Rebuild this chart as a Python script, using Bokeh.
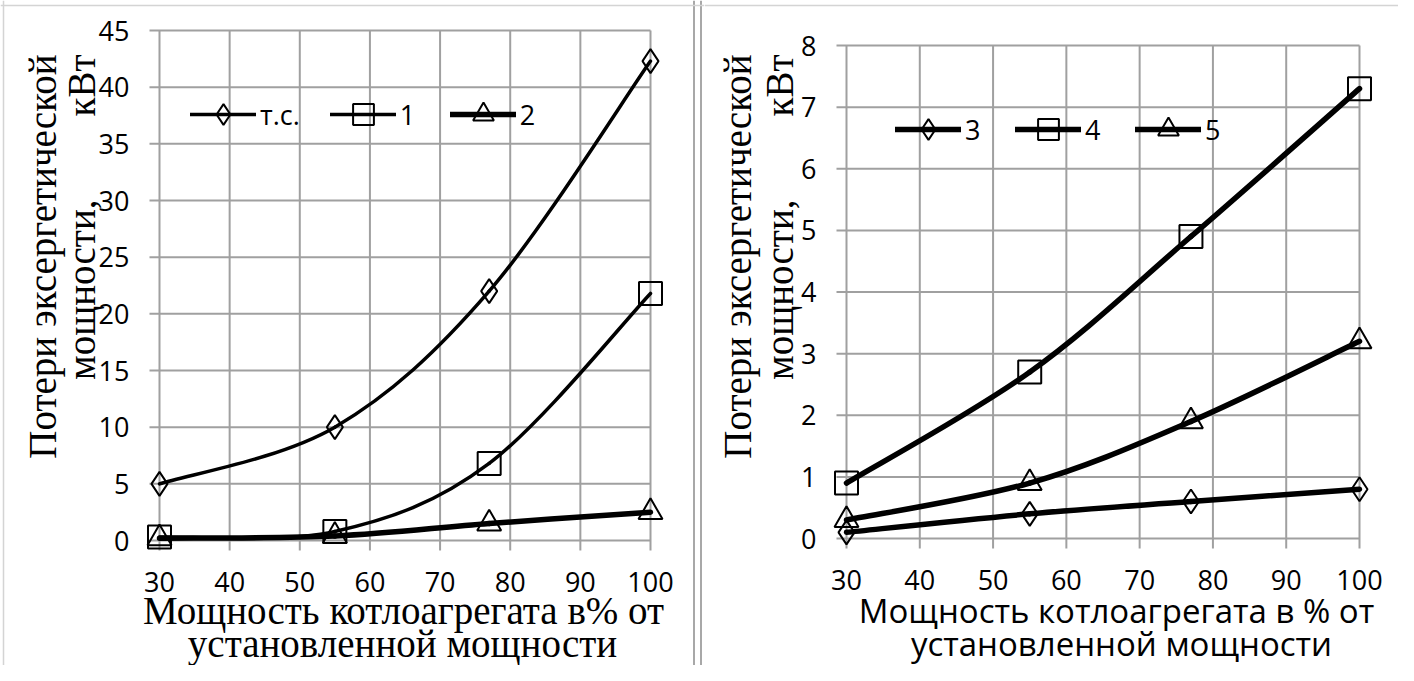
import numpy as np
from bokeh.plotting import figure
from bokeh.models import (Legend, LegendItem, ColumnDataSource, Range1d, Label, Span)
from bokeh.core.properties import value
from bokeh.layouts import row
from bokeh.embed import file_html
from bokeh.resources import INLINE

# ---------------- data ----------------
x_load = [30, 55, 77, 100]
ts_vals = [5.0, 10.0, 22.0, 42.3]
s1_vals = [0.3, 0.8, 6.8, 21.8]
s2_vals = [0.2, 0.4, 1.5, 2.5]
s3_vals = [0.1, 0.4, 0.6, 0.8]
s4_vals = [0.9, 2.7, 4.9, 7.3]
s5_vals = [0.3, 0.9, 1.9, 3.2]
x_ticks = [30, 40, 50, 60, 70, 80, 90, 100]
y_ticks_left = [0, 5, 10, 15, 20, 25, 30, 35, 40, 45]
y_ticks_right = [0, 1, 2, 3, 4, 5, 6, 7, 8]
left_names = ["т.с.", "1", "2"]
right_names = ["3", "4", "5"]
x_title = ["Мощность котлоагрегата в% от", "установленной мощности"]
x_title_r = ["Мощность котлоагрегата в % от", "установленной мощности"]
y_title = ["Потери эксергетической", "мощности,", "кВт"]

GRID = "#a0a0a0"
SANS = "Open Sans"
SERIF = "Liberation Serif"
H = 665
TICK = 10     # px length of the outside tick stubs


def smooth_source(xs, ys):
    """Catmull-Rom (Excel-like) smoothing expressed as cubic Bezier segments."""
    xs = np.asarray(xs, float)
    ys = np.asarray(ys, float)
    xp = np.concatenate([[xs[0]], xs, [xs[-1]]])
    yp = np.concatenate([[ys[0]], ys, [ys[-1]]])
    d = dict(x0=[], y0=[], x1=[], y1=[], cx0=[], cy0=[], cx1=[], cy1=[])
    for i in range(len(xs) - 1):
        d["x0"].append(xp[i + 1]); d["y0"].append(yp[i + 1])
        d["x1"].append(xp[i + 2]); d["y1"].append(yp[i + 2])
        d["cx0"].append(xp[i + 1] + (xp[i + 2] - xp[i]) / 6)
        d["cy0"].append(yp[i + 1] + (yp[i + 2] - yp[i]) / 6)
        d["cx1"].append(xp[i + 2] - (xp[i + 3] - xp[i + 1]) / 6)
        d["cy1"].append(yp[i + 2] - (yp[i + 3] - yp[i + 1]) / 6)
    return ColumnDataSource(d)


def make_fig(W, xl_px, xr_px, yt_px, yb_px, ymax, yticks, lab_dx, lab_dy):
    """Frame covers the whole canvas; the 30..100 / 0..ymax box sits at the
    given canvas pixels (left, right, top, bottom)."""
    xmin, xmax = x_ticks[0], x_ticks[-1]
    ppx = (xr_px - xl_px) / (xmax - xmin)
    ppy = (yb_px - yt_px) / ymax
    p = figure(width=W, height=H,
               x_range=Range1d(xmin - xl_px / ppx, xmax + (W - xr_px) / ppx),
               y_range=Range1d(-(H - yb_px) / ppy, ymax + yt_px / ppy),
               x_axis_location=None, y_axis_location=None,
               output_backend="svg", toolbar_location=None, title=None,
               min_border=0, min_border_left=0, min_border_right=0,
               min_border_top=0, min_border_bottom=0)
    p.outline_line_color = None
    p.background_fill_color = "white"
    p.border_fill_color = "white"
    p.grid.visible = False
    tx, ty = TICK / ppx, TICK / ppy
    # grid lines with outside tick stubs, built from the tick lists
    p.segment(x0=x_ticks, y0=[-ty] * len(x_ticks), x1=x_ticks,
              y1=[ymax] * len(x_ticks), line_color=GRID, line_width=2)
    p.segment(x0=[xmin - tx] * len(yticks), y0=yticks,
              x1=[xmax] * len(yticks), y1=yticks, line_color=GRID, line_width=2)
    # tick labels
    p.text(x=x_ticks, y=[0] * len(x_ticks), text=[str(t) for t in x_ticks],
           text_align="center", text_baseline="middle", y_offset=lab_dy,
           text_font=value(SANS), text_font_size=value("27px"), text_color="black")
    p.text(x=[xmin] * len(yticks), y=yticks, text=[str(t) for t in yticks],
           text_align="right", text_baseline="middle", x_offset=lab_dx,
           text_font=value(SANS), text_font_size=value("27px"),
           text_color="black")
    p._ppx, p._ppy = ppx, ppy
    return p


def px_to_x(p, px):
    return p.x_range.start + px / p._ppx


def py_to_y(p, py):
    return p.y_range.start + (H - py) / p._ppy


def add_series(p, xs, ys, lw, marker, msize):
    src = smooth_source(xs, ys)
    r1 = p.bezier(x0="x0", y0="y0", x1="x1", y1="y1", cx0="cx0", cy0="cy0",
                  cx1="cx1", cy1="cy1", source=src, line_color="black",
                  line_width=lw, line_cap="round")
    r2 = p.scatter(xs, ys, marker=marker, size=msize, line_color="black",
                   line_width=2, fill_color=None)
    return [r1, r2]


def add_legend(p, names, rends, loc):
    items = [LegendItem(label=n, renderers=r) for n, r in zip(names, rends)]
    lg = Legend(items=items, orientation="horizontal", location=loc,
                padding=0, margin=0, spacing=30, glyph_width=66,
                glyph_height=52, label_height=52, label_standoff=4,
                label_text_font=SANS, label_text_font_size="27px",
                label_text_color="black", background_fill_alpha=0,
                border_line_color=None)
    p.add_layout(lg)


def add_text(p, text, x, y, font, size, angle=0.0, align="center"):
    p.add_layout(Label(text=text, x=x, y=y, x_units="canvas", y_units="canvas",
                       angle=angle, text_align=align, text_baseline="middle",
                       text_font=font, text_font_size=size, text_color="black"))


def add_y_title(p, x1, x2):
    add_text(p, y_title[0], x1, 54, SERIF, "39px", np.pi / 2, "right")
    add_text(p, y_title[1], x2, 199, SERIF, "39px", np.pi / 2, "right")
    add_text(p, y_title[2], x2, 54, SERIF, "39px", np.pi / 2, "right")


# ---------------- left panel (picture x 0..704) ----------------
W1 = 704
p1 = make_fig(W1, 159, 650, 30, 540, 45, y_ticks_left, -30, 41)
rl = [add_series(p1, x_load, ts_vals, 3.5, "diamond", 24),
      add_series(p1, x_load, s1_vals, 3.5, "square", 23),
      add_series(p1, x_load, s2_vals, 5.5, "triangle", 24)]
add_legend(p1, left_names, rl, (190, 525))
add_text(p1, x_title[0], 403, 610, SERIF, "39px")
add_text(p1, x_title[1], 402, 643, SERIF, "39px")
add_y_title(p1, 42, 81)
# double divider between the two panels and the light picture frame
for px in (693.5, 700.5):
    p1.add_layout(Span(location=px_to_x(p1, px), dimension="height",
                       line_color="#a8a8a8", line_width=2))
p1.add_layout(Span(location=px_to_x(p1, 3), dimension="height",
                   line_color="#d4d4d4", line_width=1.5))
p1.add_layout(Span(location=py_to_y(p1, 5), dimension="width",
                   line_color="#d4d4d4", line_width=1.5))

# ---------------- right panel (picture x 704..1398) ----------------
W2 = 694
p2 = make_fig(W2, 142, 655, 45, 538, 8, y_ticks_right, -30, 41)
rr = [add_series(p2, x_load, s3_vals, 5.5, "diamond", 24),
      add_series(p2, x_load, s4_vals, 5.5, "square", 23),
      add_series(p2, x_load, s5_vals, 5.5, "triangle", 24)]
add_legend(p2, right_names, rr, (191, 510))
add_text(p2, x_title_r[0], 412, 610, SANS, "33px")
add_text(p2, x_title_r[1], 417, 643, SANS, "33px")
add_y_title(p2, 33, 75)
p2.add_layout(Span(location=py_to_y(p2, 5), dimension="width",
                   line_color="#d4d4d4", line_width=1.5))

layout = row(p1, p2, spacing=0)
open("out.html", "w").write(file_html(layout, INLINE))
